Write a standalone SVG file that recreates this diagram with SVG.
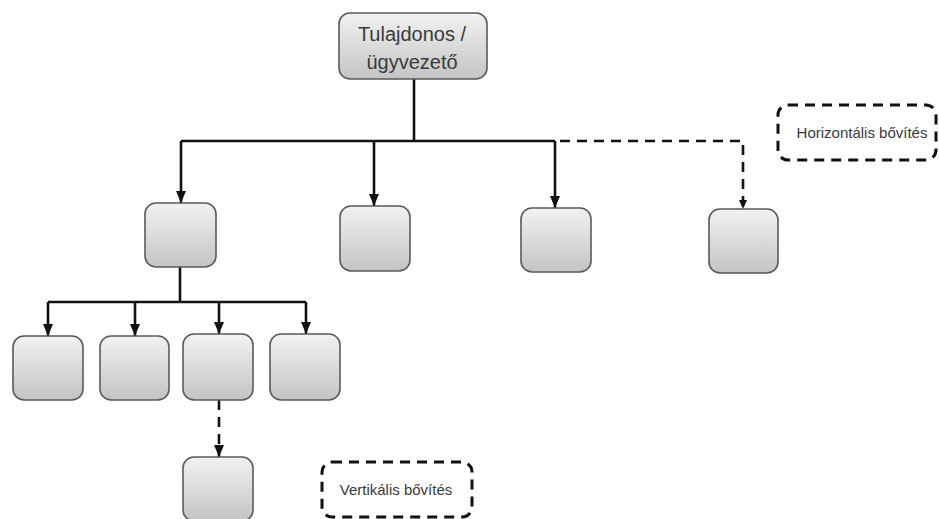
<svg xmlns="http://www.w3.org/2000/svg" width="939" height="519" viewBox="0 0 939 519">
  <defs>
    <linearGradient id="boxFill" x1="0" y1="0" x2="0" y2="1">
      <stop offset="0" stop-color="#f2f2f2"/>
      <stop offset="1" stop-color="#c4c4c4"/>
    </linearGradient>
    <!-- arrowheads drawn along +x so orient="auto" turns them with the line -->
    <marker id="arrow" viewBox="0 0 12 10" refX="12" refY="5" markerWidth="12" markerHeight="10" markerUnits="userSpaceOnUse" orient="auto">
      <path d="M0,0 L12,5 L0,10 Z" fill="#111"/>
    </marker>
    <marker id="arrowSmall" viewBox="0 0 9 8" refX="9" refY="4" markerWidth="9" markerHeight="8" markerUnits="userSpaceOnUse" orient="auto">
      <path d="M0,0 L9,4 L0,8 Z" fill="#111"/>
    </marker>
  </defs>
  <style>
    .node { fill: url(#boxFill); stroke: #5a5a5a; stroke-width: 1.6; }
    .conn { fill: none; stroke: #111; stroke-width: 2.6; }
    .dash { fill: none; stroke: #111; stroke-width: 2.6; stroke-dasharray: 10 7; }
    .note { fill: #fff; stroke: #111; stroke-width: 3; stroke-dasharray: 10 7; }
    .label { font-family: "Liberation Sans", Arial, sans-serif; fill: #3a3a3a; text-anchor: middle; }
  </style>

  <!-- connectors -->
  <g id="connectors">
    <path class="conn" d="M414,79 V141"/>
    <path class="conn" d="M181,141 H555"/>
    <path class="conn" d="M181,141 V203" marker-end="url(#arrow)"/>
    <path class="conn" d="M374,141 V206" marker-end="url(#arrow)"/>
    <path class="conn" d="M555,141 V208" marker-end="url(#arrow)"/>
    <path class="dash" d="M560,141 H743 V209" marker-end="url(#arrowSmall)"/>
    <path class="conn" d="M180,267 V302"/>
    <path class="conn" d="M48,302 H306"/>
    <path class="conn" d="M48,302 V336" marker-end="url(#arrow)"/>
    <path class="conn" d="M135,302 V336" marker-end="url(#arrow)"/>
    <path class="conn" d="M219,302 V334" marker-end="url(#arrow)"/>
    <path class="conn" d="M306,302 V334" marker-end="url(#arrow)"/>
    <path class="dash" d="M219,400 V457" marker-end="url(#arrow)"/>
  </g>

  <!-- top node -->
  <g id="owner">
    <rect class="node" x="339" y="13" width="148" height="66" rx="11"/>
    <text class="label" x="412" y="41" font-size="20">Tulajdonos /</text>
    <text class="label" x="412" y="69" font-size="20">ügyvezető</text>
  </g>

  <!-- second level -->
  <g id="unit-a"><rect class="node" x="145" y="203" width="71" height="64" rx="11"/></g>
  <g id="unit-b"><rect class="node" x="340" y="206" width="70" height="65" rx="11"/></g>
  <g id="unit-c"><rect class="node" x="521" y="208" width="70" height="64" rx="11"/></g>
  <g id="unit-d"><rect class="node" x="709" y="209" width="69" height="64" rx="11"/></g>

  <!-- third level -->
  <g id="sub-1"><rect class="node" x="13" y="336" width="70" height="64" rx="11"/></g>
  <g id="sub-2"><rect class="node" x="100" y="336" width="69" height="64" rx="11"/></g>
  <g id="sub-3"><rect class="node" x="183" y="334" width="70" height="66" rx="11"/></g>
  <g id="sub-4"><rect class="node" x="270" y="334" width="70" height="66" rx="11"/></g>

  <!-- fourth level -->
  <g id="sub-3-1"><rect class="node" x="183" y="457" width="70" height="64" rx="11"/></g>

  <!-- notes -->
  <g id="note-horizontal">
    <rect class="note" x="778" y="105" width="158" height="55" rx="10"/>
    <text class="label" x="862" y="138" font-size="15">Horizontális bővítés</text>
  </g>
  <g id="note-vertical">
    <rect class="note" x="322" y="462" width="150" height="55" rx="10"/>
    <text class="label" x="396" y="495" font-size="15">Vertikális bővítés</text>
  </g>
</svg>
